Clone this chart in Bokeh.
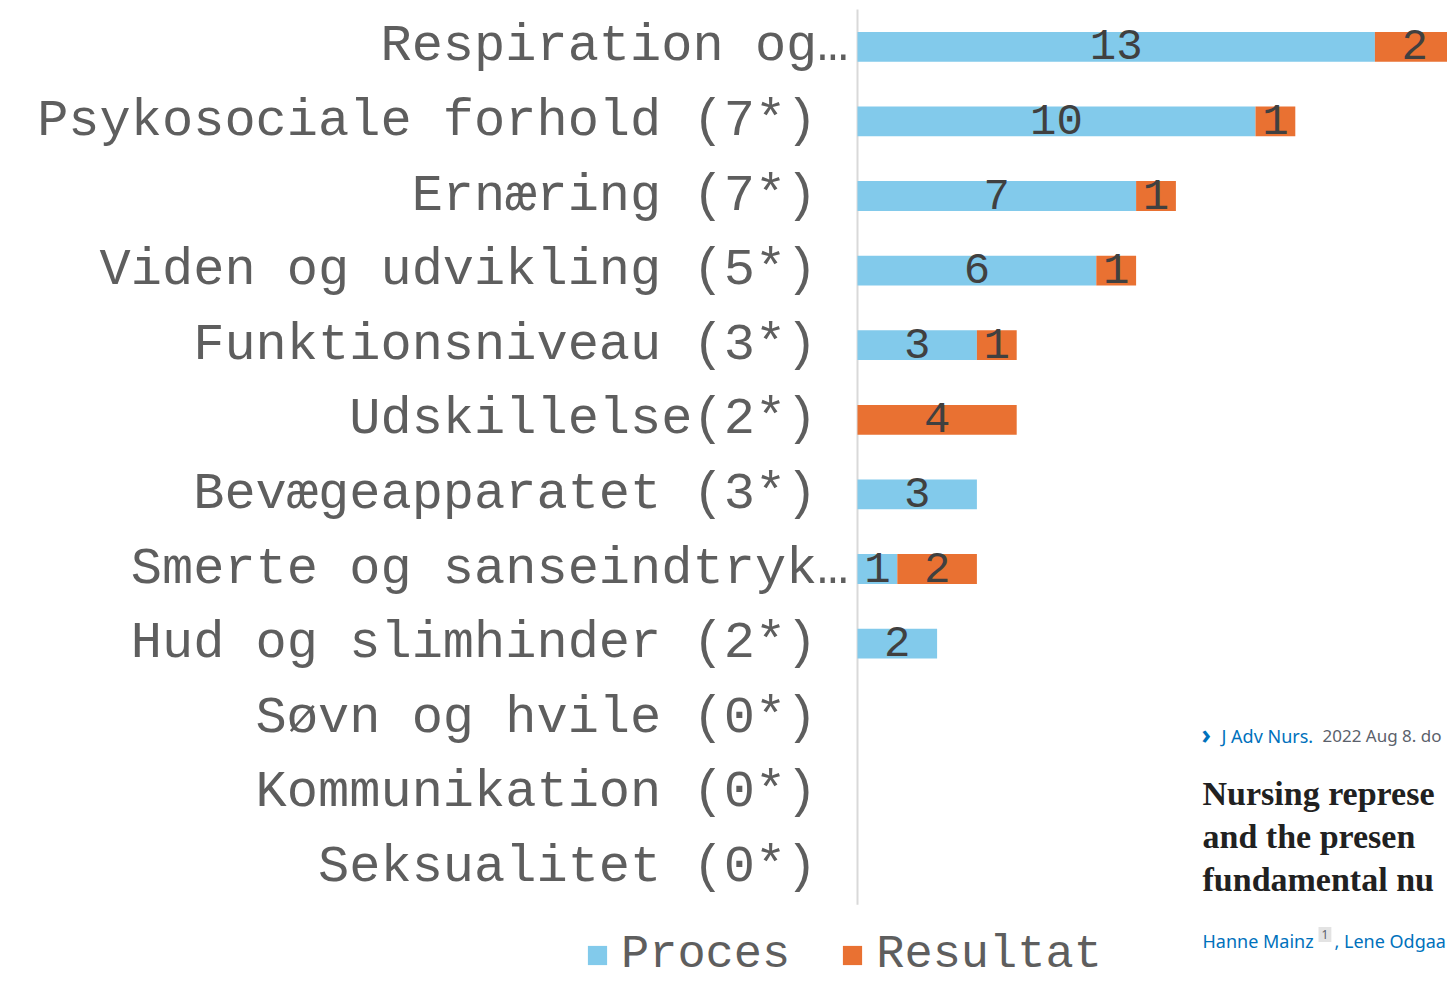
from bokeh.plotting import figure
from bokeh.models import ColumnDataSource, Range1d, Label
from bokeh.core.properties import value
from bokeh.embed import file_html
from bokeh.resources import INLINE

# ---------------- data ----------------
categories = [
    "Respiration og…",
    "Psykosociale forhold (7*)",
    "Ernæring (7*)",
    "Viden og udvikling (5*)",
    "Funktionsniveau (3*)",
    "Udskillelse(2*)",
    "Bevægeapparatet (3*)",
    "Smerte og sanseindtryk…",
    "Hud og slimhinder (2*)",
    "Søvn og hvile (0*)",
    "Kommunikation (0*)",
    "Seksualitet (0*)",
]
proces = [13, 10, 7, 6, 3, 0, 3, 1, 2, 0, 0, 0]
resultat = [2, 1, 1, 1, 1, 4, 0, 2, 0, 0, 0, 0]
series_names = ["Proces", "Resultat"]
series_colors = ["#82CAEB", "#E97132"]

journal_link = "J Adv Nurs."
journal_date = "2022 Aug 8. do"
title_lines = ["Nursing represe", "and the presen", "fundamental nu"]
author_1 = "Hanne Mainz"
author_sup = "1"
author_2 = ", Lene Odgaa"

# ---------------- layout constants ----------------
MONO = "Liberation Mono"
W, H = 1447, 983
ZERO_X = 857        # pixel column of value 0
TOP_Y = 9           # pixel row of the top of the first category band
ROW = 74.6          # pixels per category band
PX_PER_UNIT = 39.8  # pixels per unit of value

n = len(categories)
pos = list(range(n))  # row index, top row = 0
src = ColumnDataSource(dict(pos=pos, Proces=proces, Resultat=resultat))

p = figure(
    width=W, height=H,
    x_range=Range1d(-ZERO_X / PX_PER_UNIT, (W - ZERO_X) / PX_PER_UNIT),
    y_range=Range1d(start=-0.5 + (H - TOP_Y) / ROW, end=-0.5 - TOP_Y / ROW),
    x_axis_location=None, y_axis_location=None,
    output_backend="svg", toolbar_location=None,
    min_border=0,
)
p.outline_line_color = None
p.background_fill_color = "white"
p.border_fill_color = "white"
p.xgrid.visible = False
p.ygrid.visible = False

# category axis line
p.segment(x0=[0], x1=[0], y0=[-0.5], y1=[n - 0.5], line_color="#D9D9D9", line_width=2)

p.hbar_stack(series_names, y="pos", height=0.4, color=series_colors,
             line_color=None, source=src, legend_label=series_names)

# category labels (right-aligned against the axis line)
NB = "\u00a0"
cat_text = [c + NB if c.endswith(")") else c for c in categories]
csrc = ColumnDataSource(dict(y=pos, t=cat_text, x=[0] * n))
p.text(x="x", y="y", text="t", source=csrc, x_offset=-9,
       text_align="right", text_baseline="middle",
       text_font=value(MONO), text_font_size=value("52px"), text_color="#5E5E5E")

# data labels
lx, ly, lt = [], [], []
for i, (a, b) in enumerate(zip(proces, resultat)):
    if a > 0:
        lx.append(a / 2); ly.append(i); lt.append(str(a))
    if b > 0:
        lx.append(a + b / 2); ly.append(i); lt.append(str(b))
lsrc = ColumnDataSource(dict(x=lx, y=ly, t=lt))
p.text(x="x", y="y", text="t", source=lsrc, text_align="center", text_baseline="middle",
       y_offset=-2,
       text_font=value(MONO), text_font_size=value("44px"), text_color="#404040")

# legend
lg = p.legend[0]
lg.location = (585, 2)
lg.orientation = "horizontal"
lg.glyph_width = 24
lg.glyph_height = 24
lg.label_standoff = 12
lg.spacing = 50
lg.padding = 0
lg.margin = 0
lg.border_line_color = None
lg.background_fill_alpha = 0
lg.label_text_font = MONO
lg.label_text_font_size = "47px"
lg.label_text_color = "#5E5E5E"


# inset article snippet
def add_label(text, X, Y, font, size, color, bold=False, bg=None):
    kw = {}
    if bg is not None:
        kw["background_fill_color"] = bg
        kw["padding"] = 3
    p.add_layout(Label(x=X, y=H - Y,
                       x_units="screen", y_units="screen", text=text,
                       text_font=font, text_font_size=size, text_color=color,
                       text_font_style="bold" if bold else "normal",
                       text_align="left", text_baseline="middle", **kw))


BLUE = "#0071BC"
GRAY = "#5B616B"
add_label("›", 1201, 733, "Noto Sans", "26px", BLUE, bold=True)
add_label(journal_link, 1221, 735, "Noto Sans", "18px", BLUE)
add_label(journal_date, 1322, 735, "Noto Sans", "17px", GRAY)
for i, line in enumerate(title_lines):
    add_label(line, 1202, 793 + 43 * i, "Liberation Serif", "34px", "#212121", bold=True)
add_label(author_1, 1202, 940, "Noto Sans", "18px", BLUE)
add_label(author_sup, 1318, 934, "Noto Sans", "12px", GRAY, bg="#E3E3E3")
add_label(author_2, 1334, 940, "Noto Sans", "18px", BLUE)

open("out.html", "w").write(file_html(p, INLINE))
